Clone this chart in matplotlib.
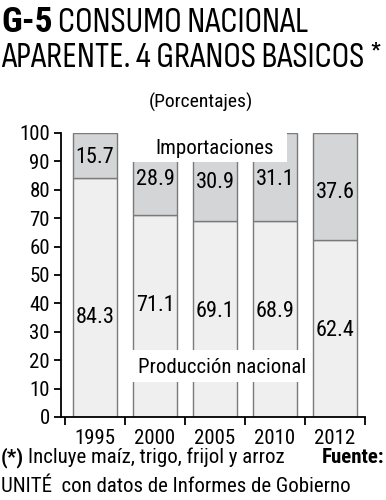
import matplotlib.pyplot as plt
from matplotlib import font_manager
from matplotlib.patches import Rectangle

# ------------------------------------------------------
# Data
# ------------------------------------------------------
YEARS = ["1995", "2000", "2005", "2010", "2012"]
PRODUCCION = [84.3, 71.1, 69.1, 68.9, 62.4]
IMPORTACIONES = [15.7, 28.9, 30.9, 31.1, 37.6]

# label placement (data y) for the value texts
Y_TOP_LABEL = [91.2, 83.5, 82.4, 83.5, 79.2]
Y_BOT_LABEL = [35.2, 39.4, 37.0, 37.3, 30.6]

COLOR_PROD = "#efefef"
COLOR_IMP = "#d4d5d7"
EDGE = "#7a7a7a"

installed = {f.name for f in font_manager.fontManager.ttflist}


def first_font(cands):
    for c in cands:
        if c in installed:
            return c
    return "DejaVu Sans"


MAIN_FONT = first_font(["Roboto Condensed", "Archivo Narrow", "PT Sans Narrow",
                        "Liberation Sans Narrow"])
TITLE_FONT = first_font(["Sofia Sans Condensed", "Roboto Condensed"])
plt.rcParams["font.family"] = [MAIN_FONT, "DejaVu Sans"]

fig = plt.figure(figsize=(3.86, 5.00), dpi=100)
renderer = fig.canvas.get_renderer()
ax = fig.add_axes([61 / 386, 83 / 500, 304 / 386, 284 / 500])


def width_px(t):
    return t.get_window_extent(renderer=renderer).width


x = list(range(len(YEARS)))
ax.bar(x, PRODUCCION, width=0.73, color=COLOR_PROD, edgecolor=EDGE, linewidth=1, zorder=2)
ax.bar(x, IMPORTACIONES, bottom=PRODUCCION, width=0.73, color=COLOR_IMP,
       edgecolor=EDGE, linewidth=1, zorder=2)

for i in x:
    ax.text(i, Y_TOP_LABEL[i], f"{IMPORTACIONES[i]:.1f}", ha="center", va="center",
            fontsize=16, zorder=5)
    ax.text(i, Y_BOT_LABEL[i], f"{PRODUCCION[i]:.1f}", ha="center", va="center",
            fontsize=16, zorder=5)

# white label boxes over the bars
ax.add_patch(Rectangle((0.533, 89.8), 2.667, 10.5, facecolor="white", edgecolor="none",
                       zorder=4, clip_on=False))
ax.text(2.0, 94.7, "Importaciones", ha="center", va="center", fontsize=15, zorder=5)
ax.add_patch(Rectangle((0.583, 12.3), 2.95, 11.3, facecolor="white", edgecolor="none",
                       zorder=4))
ax.text(2.12, 17.3, "Producción nacional", ha="center", va="center", fontsize=15, zorder=5)

ax.set_xlim(-0.567, 4.5)
ax.set_ylim(0, 100)
ax.set_yticks(range(0, 101, 10))
ax.set_xticks(x)
ax.set_xticklabels(YEARS)
ax.set_xticks([i - 0.5 for i in range(len(YEARS) + 1)], minor=True)
ax.tick_params(axis="x", which="major", length=0, pad=9, labelsize=15)
ax.tick_params(axis="x", which="minor", length=6, width=1.3, direction="out")
ax.tick_params(axis="y", length=5, width=1.3, pad=3, labelsize=15)
for s in ["top", "right"]:
    ax.spines[s].set_visible(False)
for s in ["left", "bottom"]:
    ax.spines[s].set_linewidth(1.3)

# titles (size fitted to the width of the second line, capped in height)
t3 = fig.text(0.003, 0.866, "APARENTE. 4 GRANOS BASICOS *", fontsize=25, va="baseline",
              family=TITLE_FONT)
title_size = min(25 * 382 / width_px(t3), 26)
t3.set_fontsize(title_size)
t1 = fig.text(0.003, 0.936, "G-5", fontsize=title_size, fontweight="bold", va="baseline",
              family=MAIN_FONT)
w = width_px(t1) / fig.bbox.width
fig.text(0.003 + w + 0.014, 0.936, "CONSUMO NACIONAL", fontsize=title_size,
         va="baseline", family=TITLE_FONT)
fig.text(0.52, 0.795, "(Porcentajes)", fontsize=14, ha="center", va="center")

# footnote
t2 = fig.text(0.003, 0.074, "(*)", fontsize=15, fontweight="bold", va="baseline")
w2 = width_px(t2) / fig.bbox.width
fig.text(0.003 + w2 + 0.01, 0.074, "Incluye maíz, trigo, frijol y arroz", fontsize=15,
         va="baseline")
fig.text(0.995, 0.074, "Fuente:", fontsize=15, fontweight="bold", ha="right", va="baseline")
fig.text(0.003, 0.016, "UNITÉ  con datos de Informes de Gobierno", fontsize=15,
         va="baseline")

fig.savefig("out.png", dpi=100)
